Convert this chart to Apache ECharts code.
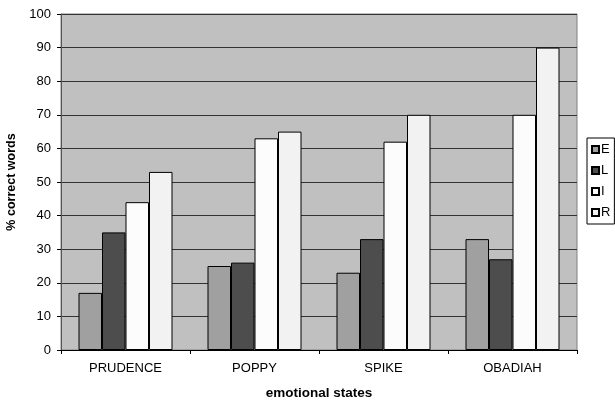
<!DOCTYPE html>
<html>
<head>
<meta charset="utf-8">
<script src="https://cdn.jsdelivr.net/npm/echarts@6/dist/echarts.min.js"></script>
<style>html,body{margin:0;padding:0;background:#fff}#c{width:615px;height:403px}</style>
</head>
<body>
<div id="c"></div>
<script>
var categories = ['PRUDENCE', 'POPPY', 'SPIKE', 'OBADIAH'];
var seriesNames = ['E', 'L', 'I', 'R'];
var valuesE = [17, 25, 23, 33];
var valuesL = [35, 26, 33, 27];
var valuesI = [44, 63, 62, 70];
var valuesR = [53, 65, 70, 90];
var yTicks = [0, 10, 20, 30, 40, 50, 60, 70, 80, 90, 100];

var colors = ['#a0a0a0', '#4d4d4d', '#fcfcfc', '#f2f2f2'];
var allValues = [valuesE, valuesL, valuesI, valuesR];
var font = 'Liberation Sans, Arial, sans-serif';

var chart = echarts.init(document.getElementById('c'), null, {renderer: 'canvas'});
chart.setOption({
  animation: false,
  grid: {left: 61, right: 38, top: 14, bottom: 53, show: true, containLabel: false, outerBoundsMode: 'none',
         backgroundColor: '#c0c0c0', borderColor: '#808080', borderWidth: 1},
  legend: {
    orient: 'vertical', left: 587, top: 138,
    itemWidth: 7, itemHeight: 7, itemGap: 8,
    borderColor: '#000', borderWidth: 1, padding: [5, 4, 5, 4],
    textStyle: {fontFamily: font, fontSize: 13, color: '#000', padding: [0, 0, 0, -3]},
    icon: 'rect',
    data: seriesNames
  },
  xAxis: {
    type: 'category', data: categories,
    name: 'emotional states', nameLocation: 'middle', nameGap: 36,
    nameTextStyle: {fontFamily: font, fontSize: 13.5, fontWeight: 'bold', color: '#000'},
    axisLine: {lineStyle: {color: '#000', width: 1}},
    axisTick: {show: true, length: 4, lineStyle: {color: '#000'}},
    axisLabel: {fontFamily: font, fontSize: 13, color: '#000', margin: 12}
  },
  yAxis: {
    type: 'value', min: yTicks[0], max: yTicks[yTicks.length - 1], interval: 10,
    name: '% correct words', nameLocation: 'middle', nameGap: 36,
    nameTextStyle: {fontFamily: font, fontSize: 12.5, fontWeight: 'bold', color: '#000'},
    axisLine: {show: true, lineStyle: {color: '#555', width: 1}},
    axisTick: {show: true, length: 4, lineStyle: {color: '#000'}},
    axisLabel: {fontFamily: font, fontSize: 13, color: '#000', margin: 10},
    splitLine: {show: true, lineStyle: {color: '#333', width: 1}}
  },
  series: seriesNames.map(function (n, i) {
    return {
      name: n, type: 'bar', data: allValues[i],
      barWidth: 23.5, barGap: '0%',
      itemStyle: {color: colors[i], borderColor: '#000', borderWidth: 1}
    };
  })
});
</script>
</body>
</html>
